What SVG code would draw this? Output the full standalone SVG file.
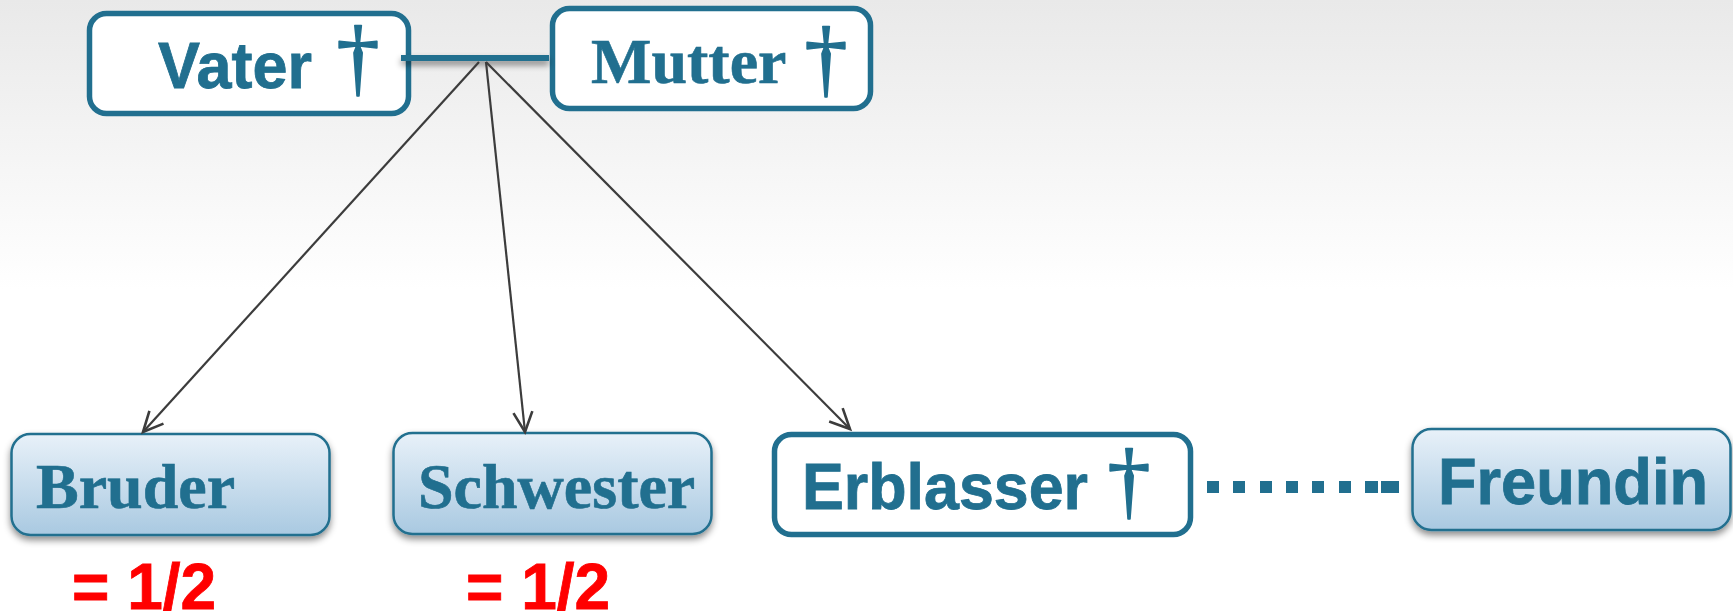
<svg xmlns="http://www.w3.org/2000/svg" width="1733" height="614" viewBox="0 0 1733 614">
<style>
.box{stroke:#216f8f;stroke-width:5.500;fill:#fff}
.fill{stroke:#216f8f;stroke-width:2.500;fill:url(#boxGrad);filter:url(#shadow)}
.sans{font-family:"Liberation Sans",Arial,sans-serif;font-weight:700;font-size:64px;fill:#216f8f;stroke:#216f8f;stroke-width:.8}
.serif{font-family:"Liberation Serif","Times New Roman",serif;font-weight:700;font-size:64px;fill:#216f8f;stroke:#216f8f;stroke-width:.6}
.cross{font-family:"Liberation Serif","Times New Roman",serif;font-size:86px;fill:#216f8f;stroke:#216f8f;stroke-width:1.600;stroke-linejoin:round;text-anchor:middle}
.red{font-family:"Liberation Sans",Arial,sans-serif;font-weight:700;font-size:64px;fill:#ff0000;stroke:#ff0000;stroke-width:.8}
.arrow{stroke:#3c3c3c;stroke-width:2.200;fill:none;marker-end:url(#open)}
</style>
<defs>
<linearGradient id="bg" x1="0" y1="0" x2="0" y2="1"><stop offset="0" stop-color="#e9e9e9"/><stop offset="1" stop-color="#ffffff"/></linearGradient>
<linearGradient id="boxGrad" x1="0" y1="0" x2="0" y2="1"><stop offset="0" stop-color="#e8f1f9"/><stop offset="1" stop-color="#a9c9e1"/></linearGradient>
<filter id="shadow" x="-10%" y="-10%" width="120%" height="130%"><feDropShadow dx="0" dy="4" stdDeviation="3.500" flood-color="#000" flood-opacity="0.45"/></filter>
<filter id="lineShadow" filterUnits="userSpaceOnUse" x="385" y="40" width="180" height="45"><feDropShadow dx="0" dy="4" stdDeviation="3" flood-color="#000" flood-opacity="0.45"/></filter>
<marker id="open" markerUnits="userSpaceOnUse" markerWidth="26" markerHeight="26" refX="22" refY="12" orient="auto"><path d="M2 2.500L22 12L2 21.500" fill="none" stroke="#3c3c3c" stroke-width="2.600"/></marker>
</defs>
<rect width="1733" height="290" fill="url(#bg)"/>
<g id="node-vater"><rect class="box" x="89.500" y="13.500" width="319" height="100" rx="17"/><text class="sans" x="158" y="88" textLength="154" lengthAdjust="spacingAndGlyphs">Vater</text><text class="cross" x="358" y="86">†</text></g>
<g id="node-mutter"><rect class="box" x="552.500" y="8.500" width="318" height="100" rx="17"/><text class="serif" x="591" y="83">Mutter</text><text class="cross" x="826" y="87">†</text></g>
<g id="node-bruder"><rect class="fill" x="11.500" y="434" width="318" height="101" rx="19"/><text class="serif" x="36" y="508">Bruder</text></g>
<g id="node-schwester"><rect class="fill" x="393.500" y="433" width="318" height="101" rx="19"/><text class="serif" x="418" y="508">Schwester</text></g>
<g id="node-erblasser"><rect class="box" x="774.500" y="434.500" width="416" height="100" rx="17"/><text class="sans" x="802" y="509" textLength="286" lengthAdjust="spacingAndGlyphs">Erblasser</text><text class="cross" x="1129" y="509">†</text></g>
<g id="node-freundin"><rect class="fill" x="1412.500" y="429" width="318" height="101" rx="19"/><text class="sans" x="1438" y="504" textLength="270" lengthAdjust="spacingAndGlyphs">Freundin</text></g>
<g id="connectors">
<path d="M401 58H549" stroke="#216f8f" stroke-width="6" fill="none" filter="url(#lineShadow)"/>
<path class="arrow" d="M479 62L143 432"/>
<path class="arrow" d="M486 62L525 432"/>
<path class="arrow" d="M486 62L850 429"/>
<path d="M1207 487h12M1233 487h12M1260 487h12M1286 487h12M1312 487h12M1339 487h12M1365 487h13M1381 487h18" stroke="#216f8f" stroke-width="12" fill="none"/>
</g>
<g id="share-bruder"><text class="red" x="72" y="609">= 1/2</text></g>
<g id="share-schwester"><text class="red" x="466" y="609">= 1/2</text></g>
</svg>
